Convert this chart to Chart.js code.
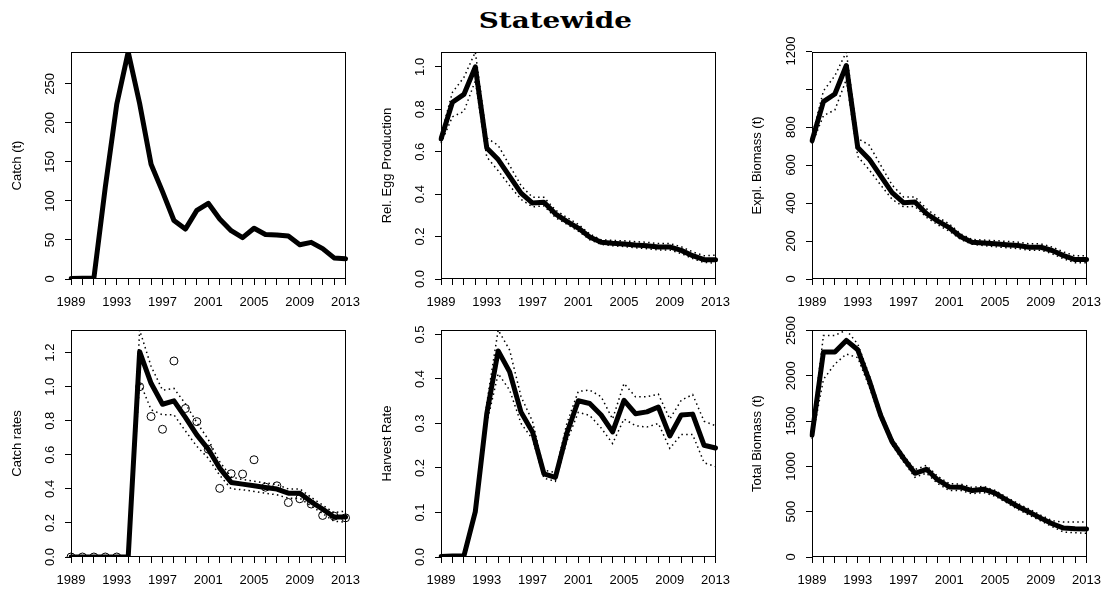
<!DOCTYPE html>
<html>
<head>
<meta charset="utf-8">
<title>Statewide</title>
<script src="https://cdn.jsdelivr.net/npm/chart.js@4.4.1/dist/chart.umd.min.js"></script>
<style>
  html, body { margin: 0; padding: 0; background: #fff; }
  #page { position: relative; width: 1111px; height: 592px; overflow: hidden; background: #fff; }
  #title {
    position: absolute; left: 0; top: 6px; width: 1111px; line-height: 26px;
    text-align: center; font: bold 23px "DejaVu Serif", serif; color: #000;
    transform: scaleX(1.21); transform-origin: 556px 0;
  }
  canvas { position: absolute; }
</style>
</head>
<body>
<div id="page">
  <div id="title">Statewide</div>
  <canvas id="catchChart" width="370" height="280" style="left:0;top:30px"></canvas>
  <canvas id="eggChart" width="370" height="280" style="left:370px;top:30px"></canvas>
  <canvas id="explChart" width="371" height="280" style="left:740px;top:30px"></canvas>
  <canvas id="cpueChart" width="370" height="282" style="left:0;top:310px"></canvas>
  <canvas id="hrChart" width="370" height="282" style="left:370px;top:310px"></canvas>
  <canvas id="totalChart" width="371" height="282" style="left:740px;top:310px"></canvas>
</div>
<script>
const years = [
  "1989", "1990", "1991", "1992", "1993", "1994", "1995", "1996", "1997",
  "1998", "1999", "2000", "2001", "2002", "2003", "2004", "2005", "2006",
  "2007", "2008", "2009", "2010", "2011", "2012", "2013",
];
const yearLabels = ["1989", "1993", "1997", "2001", "2005", "2009", "2013"];

// catch (t)
const catchTonnes = [0.5, 1, 1, 118, 224, 291, 225, 147, 112, 75, 64, 88, 97, 77, 62, 53, 65, 57, 56.5, 55, 44, 47, 39, 27, 26];
const catchTicks = [0, 50, 100, 150, 200, 250];
const catchTickLabels = ["0", "50", "100", "150", "200", "250"];

// relative egg production
const eggRel = [0.66, 0.833, 0.87, 1.0, 0.618, 0.563, 0.484, 0.405, 0.358, 0.362, 0.307, 0.272, 0.24, 0.198, 0.173, 0.168, 0.165, 0.16, 0.157, 0.151, 0.151, 0.135, 0.11, 0.091, 0.091];
const eggUpper = [0.68, 0.88, 0.95, 1.07, 0.665, 0.63, 0.535, 0.44, 0.385, 0.385, 0.325, 0.29, 0.258, 0.212, 0.185, 0.182, 0.18, 0.176, 0.173, 0.167, 0.167, 0.152, 0.128, 0.11, 0.112];
const eggLower = [0.64, 0.765, 0.79, 0.935, 0.575, 0.51, 0.44, 0.375, 0.34, 0.345, 0.29, 0.258, 0.226, 0.185, 0.163, 0.157, 0.153, 0.147, 0.143, 0.137, 0.137, 0.12, 0.096, 0.078, 0.075];
const eggTicks = [0, 0.2, 0.4, 0.6, 0.8, 1.0];
const eggTickLabels = ["0.0", "0.2", "0.4", "0.6", "0.8", "1.0"];

// exploitable biomass (t)
const explBiomass = [728, 934, 974, 1124, 692, 631, 543, 455, 402, 405, 345, 305, 270, 222, 194, 189, 185, 180, 176, 167, 167, 150, 123, 102, 102];
const explUpper = [750, 990, 1070, 1195, 740, 705, 600, 495, 432, 432, 370, 325, 290, 238, 208, 205, 202, 198, 194, 185, 185, 168, 142, 122, 122];
const explLower = [710, 860, 890, 1050, 645, 575, 495, 420, 380, 382, 325, 285, 252, 208, 183, 176, 170, 165, 160, 152, 152, 133, 106, 86, 85];
const explTicks = [0, 200, 400, 600, 800, 1000, 1200];
const explTickLabels = ["0", "200", "400", "600", "800", "", "1200"];

// catch rates
const cpueFit = [0, 0, 0, 0, 0, 0, 1.206, 1.02, 0.897, 0.917, 0.82, 0.717, 0.633, 0.522, 0.438, 0.428, 0.418, 0.408, 0.399, 0.375, 0.375, 0.324, 0.281, 0.235, 0.235];
const cpueUpper = [0, 0, 0, 0, 0, 0, 1.333, 1.12, 0.98, 0.99, 0.9, 0.79, 0.69, 0.56, 0.47, 0.455, 0.445, 0.435, 0.425, 0.4, 0.4, 0.35, 0.305, 0.26, 0.27];
const cpueLower = [0, 0, 0, 0, 0, 0, 1.03, 0.865, 0.835, 0.835, 0.74, 0.65, 0.58, 0.48, 0.4, 0.395, 0.385, 0.375, 0.365, 0.345, 0.345, 0.3, 0.255, 0.21, 0.205];
const cpueObserved = [0, 0, 0, 0, 0, null, 1.0, 0.825, 0.75, 1.151, 0.872, 0.795, 0.633, 0.403, 0.489, 0.487, 0.571, 0.41, 0.418, 0.32, 0.342, 0.311, 0.244, 0.24, 0.23];
const cpueTicks = [0, 0.2, 0.4, 0.6, 0.8, 1.0, 1.2];
const cpueTickLabels = ["0.0", "0.2", "0.4", "0.6", "0.8", "1.0", "1.2"];

// harvest rate
const harvestRate = [0.001, 0.002, 0.002, 0.102, 0.322, 0.463, 0.416, 0.325, 0.281, 0.187, 0.179, 0.278, 0.351, 0.345, 0.319, 0.281, 0.352, 0.322, 0.326, 0.337, 0.272, 0.319, 0.321, 0.251, 0.245];
const harvestUpper = [0.001, 0.002, 0.002, 0.11, 0.345, 0.51, 0.465, 0.36, 0.305, 0.195, 0.19, 0.3, 0.372, 0.375, 0.36, 0.31, 0.39, 0.36, 0.36, 0.366, 0.31, 0.352, 0.365, 0.305, 0.295];
const harvestLower = [0.001, 0.002, 0.002, 0.095, 0.3, 0.412, 0.375, 0.3, 0.265, 0.177, 0.17, 0.26, 0.325, 0.318, 0.29, 0.255, 0.31, 0.295, 0.292, 0.3, 0.244, 0.275, 0.275, 0.212, 0.203];
const harvestTicks = [0, 0.1, 0.2, 0.3, 0.4, 0.5];
const harvestTickLabels = ["0.0", "0.1", "0.2", "0.3", "0.4", "0.5"];

// total biomass (t)
const totalBiomass = [1345, 2262, 2262, 2390, 2287, 1950, 1565, 1272, 1090, 924, 968, 850, 773, 770, 733, 748, 704, 630, 557, 495, 429, 367, 319, 312, 308];
const totalUpper = [1390, 2445, 2445, 2505, 2350, 2010, 1610, 1310, 1125, 965, 1010, 890, 810, 805, 768, 780, 735, 662, 590, 528, 462, 400, 385, 385, 385];
const totalLower = [1300, 1960, 2130, 2240, 2200, 1880, 1520, 1235, 1050, 880, 925, 810, 735, 735, 698, 712, 672, 600, 525, 462, 398, 335, 275, 268, 262];
const totalTicks = [0, 500, 1000, 1500, 2000, 2500];
const totalTickLabels = ["0", "500", "1000", "1500", "2000", "2500"];

const FONT_FAMILY = '"Liberation Sans", Arial, Helvetica, sans-serif';

function mainLine(data) {
  return {
    data,
    borderColor: "#000",
    borderWidth: 5,
    borderJoinStyle: "round",
    borderCapStyle: "round",
    pointRadius: 0,
    fill: false,
    tension: 0,
  };
}

function dottedLine(data) {
  return {
    data,
    borderColor: "#000",
    borderWidth: 1.5,
    borderDash: [1.5, 3.3],
    pointRadius: 0,
    fill: false,
    tension: 0,
  };
}

function openCircles(data) {
  return {
    data,
    showLine: false,
    pointStyle: "circle",
    pointRadius: 4,
    pointBorderWidth: 1,
    pointBorderColor: "#000",
    pointBackgroundColor: "rgba(0,0,0,0)",
  };
}

// R-style frame plus rotated y tick labels
function frameAndLabels(tickLabels) {
  return {
    id: "rFrame",
    afterDraw(chart) {
      const { ctx, chartArea } = chart;
      const yScale = chart.scales.y;
      ctx.save();
      ctx.strokeStyle = "#000";
      ctx.lineWidth = 1;
      const l = Math.round(chartArea.left) + 0.5;
      const t = Math.round(chartArea.top) + 0.5;
      ctx.strokeRect(l, t, Math.round(chartArea.right - chartArea.left) - 1, Math.round(chartArea.bottom - chartArea.top) - 1);
      ctx.fillStyle = "#000";
      ctx.font = `13px ${FONT_FAMILY}`;
      ctx.textAlign = "center";
      ctx.textBaseline = "alphabetic";
      yScale.ticks.forEach((tick, i) => {
        const label = tickLabels[i];
        if (!label) return;
        ctx.save();
        ctx.translate(chartArea.left - 17, yScale.getPixelForValue(tick.value));
        ctx.rotate(-Math.PI / 2);
        ctx.fillText(label, 0, 0);
        ctx.restore();
      });
      ctx.restore();
    },
  };
}

function buildPanel({ canvasId, yTitle, yTicks, yTickLabels, yMax, datasets, topPad, axisWidth, axisHeight }) {
  const tickGrid = {
    display: true,
    drawOnChartArea: false,
    drawTicks: true,
    tickLength: 6,
    color: "#000",
    lineWidth: 1,
  };
  return new Chart(document.getElementById(canvasId), {
    type: "line",
    data: { labels: years, datasets },
    options: {
      responsive: false,
      animation: false,
      events: [],
      layout: {
        autoPadding: false,
        padding: { top: topPad, right: 20, bottom: 0, left: 0 },
      },
      plugins: {
        legend: { display: false },
        tooltip: { enabled: false },
      },
      scales: {
        x: {
          type: "category",
          offset: false,
          grid: { ...tickGrid, offset: false },
          border: { display: false },
          ticks: {
            autoSkip: false,
            maxRotation: 0,
            minRotation: 0,
            padding: 10,
            color: "#000",
            font: { family: FONT_FAMILY, size: 13 },
            callback: (value, index) => (yearLabels.includes(years[index]) ? years[index] : ""),
          },
          afterFit: (scale) => {
            scale.height = axisHeight;
          },
        },
        y: {
          type: "linear",
          min: 0,
          max: yMax,
          afterBuildTicks: (scale) => {
            scale.ticks = yTicks.map((v) => ({ value: v }));
          },
          grid: tickGrid,
          border: { display: false },
          ticks: { display: false },
          title: {
            display: true,
            text: yTitle,
            color: "#000",
            font: { family: FONT_FAMILY, size: 13 },
            padding: { top: 10, bottom: 0 },
          },
          afterFit: (scale) => {
            scale.width = axisWidth;
          },
        },
      },
    },
    plugins: [frameAndLabels(yTickLabels)],
  });
}

buildPanel({
  canvasId: "catchChart",
  yTitle: "Catch (t)",
  yTicks: catchTicks,
  yTickLabels: catchTickLabels,
  yMax: Math.max(...catchTonnes),
  datasets: [mainLine(catchTonnes)],
  topPad: 22, axisWidth: 71, axisHeight: 31,
});

buildPanel({
  canvasId: "eggChart",
  yTitle: "Rel. Egg Production",
  yTicks: eggTicks,
  yTickLabels: eggTickLabels,
  yMax: Math.max(...eggUpper),
  datasets: [mainLine(eggRel), dottedLine(eggUpper), dottedLine(eggLower)],
  topPad: 22, axisWidth: 71, axisHeight: 31,
});

buildPanel({
  canvasId: "explChart",
  yTitle: "Expl. Biomass (t)",
  yTicks: explTicks,
  yTickLabels: explTickLabels,
  yMax: Math.max(...explUpper),
  datasets: [mainLine(explBiomass), dottedLine(explUpper), dottedLine(explLower)],
  topPad: 22, axisWidth: 72, axisHeight: 31,
});

buildPanel({
  canvasId: "cpueChart",
  yTitle: "Catch rates",
  yTicks: cpueTicks,
  yTickLabels: cpueTickLabels,
  yMax: Math.max(...cpueUpper),
  datasets: [mainLine(cpueFit), dottedLine(cpueUpper), dottedLine(cpueLower), openCircles(cpueObserved)],
  topPad: 20, axisWidth: 71, axisHeight: 35,
});

buildPanel({
  canvasId: "hrChart",
  yTitle: "Harvest Rate",
  yTicks: harvestTicks,
  yTickLabels: harvestTickLabels,
  yMax: Math.max(...harvestUpper),
  datasets: [mainLine(harvestRate), dottedLine(harvestUpper), dottedLine(harvestLower)],
  topPad: 20, axisWidth: 71, axisHeight: 35,
});

buildPanel({
  canvasId: "totalChart",
  yTitle: "Total Biomass (t)",
  yTicks: totalTicks,
  yTickLabels: totalTickLabels,
  yMax: Math.max(...totalUpper),
  datasets: [mainLine(totalBiomass), dottedLine(totalUpper), dottedLine(totalLower)],
  topPad: 20, axisWidth: 72, axisHeight: 35,
});
</script>
</body>
</html>
